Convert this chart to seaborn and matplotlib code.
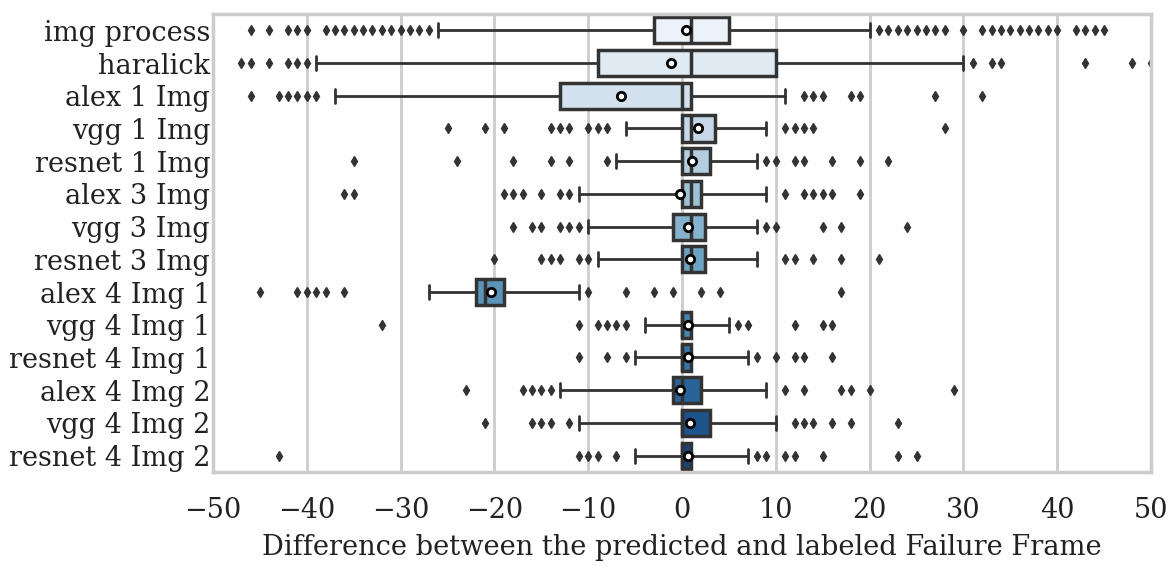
import numpy as np
import matplotlib
matplotlib.use("Agg")
import matplotlib.pyplot as plt
import seaborn as sns

# Model variants, top to bottom
methods = [
    "img process", "haralick", "alex 1 Img", "vgg 1 Img", "resnet 1 Img",
    "alex 3 Img", "vgg 3 Img", "resnet 3 Img", "alex 4 Img 1", "vgg 4 Img 1",
    "resnet 4 Img 1", "alex 4 Img 2", "vgg 4 Img 2", "resnet 4 Img 2",
]

# Box summary statistics (frame differences)
q1 = [-3, -9, -13, 0, 0, 0, -1, 0, -22, 0, 0, -1, 0, 0]
medians = [1, 1, 0, 1, 1, 1, 1, 1, -21, 0, 0, 0, 0, 0]
q3 = [5, 10, 1, 3.5, 3, 2, 2.5, 2.5, -19, 1, 1, 2, 3, 1]
means = [0.4, -1.2, -6.5, 1.7, 1.1, -0.2, 0.6, 0.8, -20.4, 0.6, 0.6, -0.2, 0.8, 0.6]
whisker_low = [-26, -39, -37, -6, -7, -11, -10, -9, -27, -4, -5, -13, -11, -5]
whisker_high = [20, 30, 11, 9, 8, 9, 8, 8, -11, 5, 7, 9, 10, 7]

# Outlying frame differences for each variant
outliers = [
    [-46, -44, -42, -41, -40, -38, -37, -36, -35, -34, -33, -32, -31, -30, -29,
     -28, -27, 21, 22, 23, 24, 25, 26, 27, 28, 30, 32, 33, 34, 35, 36, 37, 38,
     39, 40, 42, 43, 44, 45],
    [-47, -46, -44, -42, -41, -40, 31, 33, 34, 43, 48, 50],
    [-46, -43, -42, -41, -40, -39, 13, 14, 15, 18, 19, 27, 32],
    [-25, -21, -19, -14, -13, -12, -10, -9, -8, 11, 12, 13, 14, 28],
    [-35, -24, -18, -14, -12, -8, 9, 10, 12, 13, 16, 19, 22],
    [-36, -35, -19, -18, -17, -15, -13, -12, 11, 13, 14, 15, 16, 19],
    [-18, -16, -15, -13, -12, -11, 9, 10, 15, 17, 24],
    [-20, -15, -14, -13, -11, -10, 11, 12, 14, 17, 21],
    [-45, -41, -40, -39, -38, -36, -10, -6, -3, -1, 2, 4, 17],
    [-32, -11, -9, -8, -7, -6, 6, 7, 12, 15, 16],
    [-11, -8, -6, 8, 10, 12, 13, 16],
    [-23, -17, -16, -15, -14, 11, 13, 17, 18, 20, 29],
    [-21, -16, -15, -14, -12, 12, 13, 14, 16, 18, 23],
    [-43, -11, -10, -9, -7, 8, 9, 11, 12, 15, 23, 25],
]

x_ticks = [-50, -40, -30, -20, -10, 0, 10, 20, 30, 40, 50]
x_label = "Difference between the predicted and labeled Failure Frame"

sns.set_theme(style="whitegrid")
plt.rcParams["font.family"] = ["DejaVu Serif"]
plt.rcParams["axes.unicode_minus"] = True

edge = "#333333"
palette = [sns.desaturate(c, 0.75) for c in sns.color_palette("Blues", len(methods))]

fig = plt.figure(figsize=(11.75, 5.66), dpi=100)
ax = fig.add_axes([0.1813, 0.1661, 0.7983, 0.8092])

stats = [
    dict(label=m, q1=a, med=md, q3=b, mean=mn, whislo=lo, whishi=hi, fliers=f)
    for m, a, md, b, mn, lo, hi, f in zip(
        methods, q1, medians, q3, means, whisker_low, whisker_high, outliers)
]

bp = ax.bxp(
    stats,
    positions=np.arange(len(methods)),
    widths=0.8,
    capwidths=0.42,
    orientation="horizontal",
    patch_artist=True,
    showmeans=True,
    boxprops=dict(edgecolor=edge, linewidth=2.5),
    medianprops=dict(color=edge, linewidth=2.5),
    whiskerprops=dict(color=edge, linewidth=2.0),
    capprops=dict(color=edge, linewidth=2.0),
    flierprops=dict(marker="d", markersize=5.2, markerfacecolor=edge,
                    markeredgecolor=edge, linestyle="none"),
    meanprops=dict(marker="o", markersize=6, markerfacecolor="white",
                   markeredgecolor="black", markeredgewidth=2.0),
)
for patch, color in zip(bp["boxes"], palette):
    patch.set_facecolor(color)

ax.set_xlim(-50, 50)
ax.set_ylim(len(methods) - 0.5, -0.5)
ax.set_xticks(x_ticks)
ax.set_yticks(np.arange(len(methods)))
ax.set_yticklabels(methods)
ax.tick_params(axis="y", labelsize=19.5, pad=2, length=0, colors="#222222")
ax.tick_params(axis="x", labelsize=19.5, pad=18, length=0, colors="#222222")
ax.set_xlabel(x_label, fontsize=19.6, color="#222222", labelpad=7)

ax.xaxis.grid(True, color="#cccccc", linewidth=2.0)
ax.yaxis.grid(False)
ax.set_axisbelow(True)
for spine in ax.spines.values():
    spine.set_color("#cccccc")
    spine.set_linewidth(2.5)

fig.savefig("out.png", dpi=100)
